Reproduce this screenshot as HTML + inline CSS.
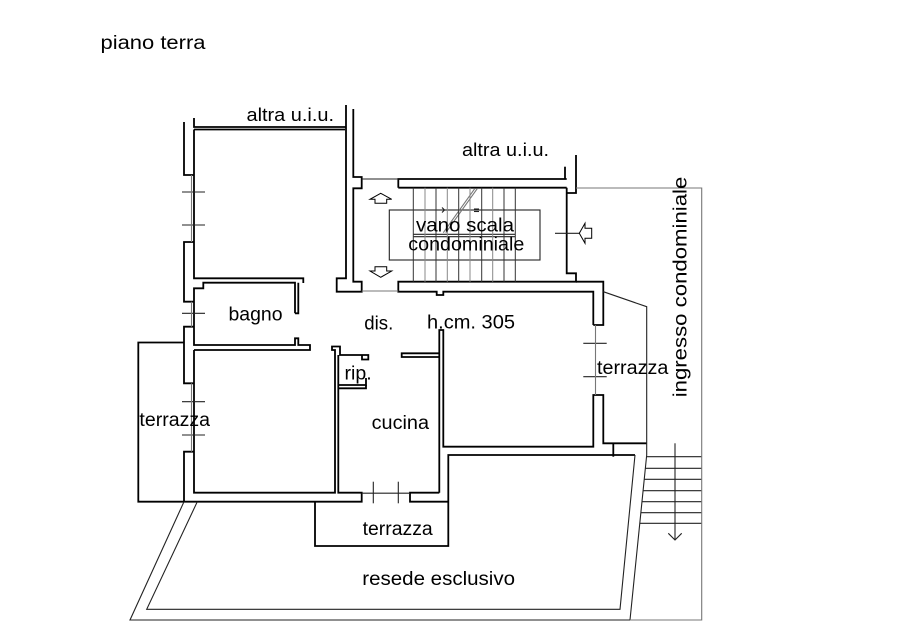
<!DOCTYPE html>
<html><head><meta charset="utf-8"><style>
html,body{margin:0;padding:0;background:#fff;}
svg{display:block;}
text{font-family:"Liberation Sans",Arial,sans-serif;font-size:19px;fill:#000;}
</style></head><body>
<svg width="908" height="638" viewBox="0 0 908 638" xmlns="http://www.w3.org/2000/svg">
<rect width="908" height="638" fill="#fff"/>

<!-- main walls -->
<g fill="none" stroke="#000" stroke-width="1.8">
  <!-- room A top wall -->
  <polyline points="194,118 194,127 346,127"/>
  <line x1="194" y1="129.5" x2="345" y2="129.5"/>
  <!-- room A right / stair left -->
  <polyline points="346,105 346,278.3 336.7,278.3 336.7,291.7 361.7,291.7 361.7,281.7 353.3,281.7 353.3,188.3 361.7,188.3 361.7,177 353.3,177 353.3,109"/>
  <!-- left exterior wall -->
  <polyline points="184,122 184,175 194,175"/>
  <polyline points="194,129.5 194,278.3 303.3,278.3 303.3,283"/>
  <polyline points="194,242 184,242 184,301.7 194,301.7"/>
  <polyline points="194,326.7 184,326.7 184,383.3 193.5,383.3"/>
  <polyline points="193.5,451.7 184,451.7 184,501.7 361.7,501.7 361.7,492.7 338.3,492.7 338.3,355"/>
  <!-- bagno -->
  <polyline points="295,313.3 295,282.7 203.3,282.7 203.3,288.3 194,288.3 194,345 295,345 295,338.3 298.3,338.3 298.3,345 310,345 310,350 194,350"/>
  <polyline points="295,313.3 298.3,313.3 298.3,282.7"/>
  <!-- room B -->
  <polyline points="194,350 194,492.7 335,492.7 335,350 332,350 332,346.5 340,346.5 340,355 368.3,355 368.3,359.5 362,359.5 362,355"/>
  <!-- rip closet -->
  <polyline points="338.3,385 366,385 366,378"/>
  <polyline points="338.3,388.3 366,388.3 366,385"/>
  <!-- cucina top right -->
  <polyline points="439.3,353.3 401.7,353.3 401.7,357 439.3,357"/>
  <!-- cucina / room C wall -->
  <polyline points="439.3,492.7 439.3,330 443.3,330 443.3,446.7 593.3,446.7 593.3,395 603.3,395 603.3,443.3 646.7,443.3"/>
  <line x1="613.3" y1="443.3" x2="613.3" y2="456.7"/>
  <!-- cucina bottom right -->
  <polyline points="439.3,492.7 410,492.7 410,501.7 448.3,501.7"/>
  <!-- bottom terrazza -->
  <polyline points="315,501.7 315,546 448.3,546 448.3,455 635,455"/>
  <!-- stair bottom wall / room C top -->
  <polyline points="593.3,325 593.3,291.7 443.3,291.7 443.3,295 436.7,295 436.7,291.7 398.3,291.7 398.3,281.7 576,281.7 576,273.3 566.7,273.3 566.7,187.7"/>
  <polyline points="576,281.7 603.3,281.7 603.3,325 593.3,325"/>
  <polyline points="566.7,193 576,193 576,155"/>
  <!-- stair top wall -->
  <polyline points="398.3,187.7 398.3,179 566.7,179"/>
  <line x1="398.3" y1="187.7" x2="566.7" y2="187.7"/>
  <line x1="565" y1="166.7" x2="565" y2="179"/>
  <!-- left terrazza -->
  <polyline points="184,342.5 138.3,342.5 138.3,501.7 184,501.7"/>
</g>

<!-- thin lines -->
<g fill="none" stroke="#222" stroke-width="1.1">
  <line x1="361.7" y1="179" x2="398.3" y2="179"/>
  <!-- right terrazza diag -->
  <polyline points="603.3,291.7 646.7,306.7 646.7,455"/>
  <!-- resede -->
  <polyline points="197.3,501.7 146.7,609.3 620,609.3 635,455"/>
  <polyline points="184,501.7 130,620 630,620 646.7,455"/>
  <!-- outer stairs -->
  <line x1="646.5" y1="456.7" x2="701.7" y2="456.7"/>
  <line x1="645.3" y1="468.3" x2="701.7" y2="468.3"/>
  <line x1="644.2" y1="479.3" x2="701.7" y2="479.3"/>
  <line x1="643.1" y1="490.7" x2="701.7" y2="490.7"/>
  <line x1="642" y1="501.7" x2="701.7" y2="501.7"/>
  <line x1="640.9" y1="512.7" x2="701.7" y2="512.7"/>
  <line x1="639.8" y1="523.3" x2="701.7" y2="523.3"/>
  <line x1="675" y1="443.3" x2="675" y2="540"/>
  <polyline points="668.3,533.3 675,540 681.7,533.3"/>
  <!-- stair rectangle -->
  <rect x="389.3" y="210" width="150.7" height="50"/>
  <!-- underline -->
  <line x1="413" y1="234.3" x2="515" y2="234.3"/>
  <line x1="413" y1="236.7" x2="515" y2="236.7"/>
  <!-- door ticks -->
  <line x1="361.7" y1="493.2" x2="410" y2="493.2"/>
  <line x1="555" y1="233.3" x2="579.3" y2="233.3"/>
  <!-- window ticks -->
  <line x1="182" y1="192" x2="205" y2="192"/>
  <line x1="182" y1="225" x2="205" y2="225"/>
  <line x1="182" y1="313.3" x2="205" y2="313.3"/>
  <line x1="182" y1="401.7" x2="205" y2="401.7"/>
  <line x1="182" y1="435" x2="205" y2="435"/>
  <line x1="583.3" y1="343.3" x2="606.7" y2="343.3"/>
  <line x1="583.3" y1="376.7" x2="606.7" y2="376.7"/>
  <line x1="373.3" y1="481.7" x2="373.3" y2="503.3"/>
  <line x1="398.3" y1="481.7" x2="398.3" y2="503.3"/>
  <!-- small marks -->
  <polyline points="442,207.5 444.5,210 442,212.5"/>
  <line x1="474" y1="209" x2="479" y2="209"/>
  <line x1="474" y1="211.5" x2="479" y2="211.5"/>
</g>

<!-- grey lines -->
<g fill="none" stroke="#777" stroke-width="1.1">
  <polyline points="576,188 701.7,188 701.7,620 630,620"/>
  <line x1="191.5" y1="175" x2="191.5" y2="242"/>
  <line x1="191.5" y1="301.7" x2="191.5" y2="326.7"/>
  <line x1="191.5" y1="383.3" x2="191.5" y2="451.7"/>
  <line x1="595.5" y1="325" x2="595.5" y2="395"/>
  <line x1="361.7" y1="291" x2="398.3" y2="291"/>
  <line x1="475" y1="188.3" x2="443.3" y2="232.7"/>
  <line x1="477.5" y1="188.3" x2="445.8" y2="232.7"/>
</g>

<!-- stair treads -->
<g stroke="#333" stroke-width="1">
  <line x1="413.3" y1="187.7" x2="413.3" y2="281.7"/>
  <line x1="425" y1="187.7" x2="425" y2="281.7" stroke="#888"/>
  <line x1="436" y1="187.7" x2="436" y2="281.7"/>
  <line x1="447.3" y1="187.7" x2="447.3" y2="281.7" stroke="#888"/>
  <line x1="458.7" y1="187.7" x2="458.7" y2="281.7"/>
  <line x1="470" y1="187.7" x2="470" y2="281.7" stroke="#888"/>
  <line x1="481.7" y1="187.7" x2="481.7" y2="281.7"/>
  <line x1="492.7" y1="187.7" x2="492.7" y2="281.7" stroke="#888"/>
  <line x1="504" y1="187.7" x2="504" y2="281.7"/>
  <line x1="515.3" y1="187.7" x2="515.3" y2="281.7"/>
</g>

<!-- hollow arrows -->
<g fill="#fff" stroke="#000" stroke-width="1">
  <polygon points="380.7,193.3 391.7,199.3 386.7,199.3 386.7,203.3 375,203.3 375,199.3 370,199.3"/>
  <polygon points="375,266.7 386.7,266.7 386.7,271 391.7,271 380.7,277.3 370,271 375,271"/>
  <polygon points="579.3,233.3 585,223.3 585,228.3 591.7,228.3 591.7,238.3 585,238.3 585,243.3"/>
</g>

<!-- labels -->
<text x="100.5" y="49" textLength="105" lengthAdjust="spacingAndGlyphs">piano terra</text>
<text x="246.5" y="121" textLength="87.5" lengthAdjust="spacingAndGlyphs" style="font-size:18px">altra u.i.u.</text>
<text x="462" y="156" textLength="87" lengthAdjust="spacingAndGlyphs" style="font-size:18px">altra u.i.u.</text>
<text x="416" y="231.7" textLength="98" lengthAdjust="spacingAndGlyphs">vano scala</text>
<text x="408.3" y="250.7" textLength="116" lengthAdjust="spacingAndGlyphs">condominiale</text>
<text x="228.5" y="320.7" textLength="54" lengthAdjust="spacingAndGlyphs">bagno</text>
<text x="364.3" y="329.3" textLength="29" lengthAdjust="spacingAndGlyphs">dis.</text>
<text x="427" y="328.3" textLength="88" lengthAdjust="spacingAndGlyphs">h.cm. 305</text>
<text x="344.5" y="379.3" textLength="27.2" lengthAdjust="spacingAndGlyphs">rip.</text>
<text x="371.6" y="429" textLength="57.4" lengthAdjust="spacingAndGlyphs">cucina</text>
<text x="139.4" y="426" textLength="70.6" lengthAdjust="spacingAndGlyphs">terrazza</text>
<text x="597" y="374" textLength="71.3" lengthAdjust="spacingAndGlyphs">terrazza</text>
<text x="362.6" y="535" textLength="70.1" lengthAdjust="spacingAndGlyphs">terrazza</text>
<text x="362.3" y="585" textLength="152.7" lengthAdjust="spacingAndGlyphs">resede esclusivo</text>
<text transform="translate(686.5,397.3) rotate(-90)" x="0" y="0" textLength="220.6" lengthAdjust="spacingAndGlyphs">ingresso condominiale</text>
</svg>
</body></html>
